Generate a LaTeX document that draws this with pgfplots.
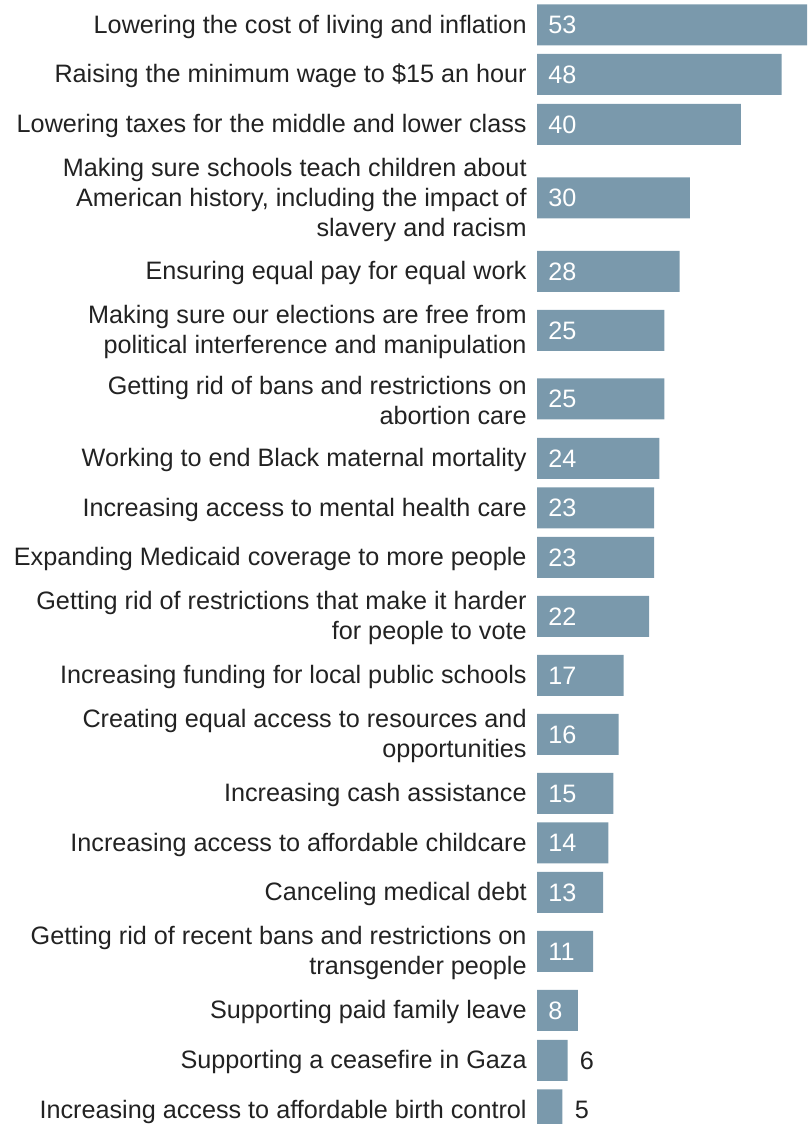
\documentclass[border=0pt]{standalone}
\usepackage{pgfplots}
\pgfplotsset{compat=1.18}
\usepackage{fontspec}
\setmainfont{Liberation Sans}
\definecolor{barc}{HTML}{7A99AC}
\definecolor{txt}{HTML}{222222}
\begin{document}
\begin{tikzpicture}
\useasboundingbox (0,0) rectangle (405pt,562pt);
\begin{axis}[
  at={(268.5pt,0pt)}, anchor=south west,
  scale only axis, width=136.5pt, height=562pt,
  xmin=0, xmax=53.59, ymin=-1124, ymax=0,
  clip=false,
  axis x line=none,
  axis y line*=left,
  y axis line style={draw=none},
  major tick length=0pt,
  xtick=\empty,
  ytick={-25,-74.5,-124.5,-198,-271.5,-330.5,-399,-458.5,-508,-557.5,-616.5,-675.5,-734.5,-793.5,-843,-892.5,-951.5,-1010.5,-1060.5,-1110},
  yticklabels={
    {Lowering the cost of living and inflation},
    {Raising the minimum wage to \$15 an hour},
    {Lowering taxes for the middle and lower class},
    {Making sure schools teach children about\\American history, including the impact of\\slavery and racism},
    {Ensuring equal pay for equal work},
    {Making sure our elections are free from\\political interference and manipulation},
    {Getting rid of bans and restrictions on\\abortion care},
    {Working to end Black maternal mortality},
    {Increasing access to mental health care},
    {Expanding Medicaid coverage to more people},
    {Getting rid of restrictions that make it harder\\for people to vote},
    {Increasing funding for local public schools},
    {Creating equal access to resources and\\opportunities},
    {Increasing cash assistance},
    {Increasing access to affordable childcare},
    {Canceling medical debt},
    {Getting rid of recent bans and restrictions on\\transgender people},
    {Supporting paid family leave},
    {Supporting a ceasefire in Gaza},
    {Increasing access to affordable birth control}},
  yticklabel style={align=right, anchor=east, inner sep=0pt, xshift=-5pt, yshift=-0.8pt,
    font=\fontsize{12.6}{15}\selectfont, text=txt},
]
\addplot[xbar, bar width=20.5pt, fill=barc, draw=none] coordinates {
(53,-25) (48,-74.5) (40,-124.5) (30,-198) (28,-271.5) (25,-330.5) (25,-399)
(24,-458.5) (23,-508) (23,-557.5) (22,-616.5) (17,-675.5) (16,-734.5)
(15,-793.5) (14,-843) (13,-892.5) (11,-951.5) (8,-1010.5) (6,-1060.5) (5,-1110)};
\addplot[draw=none, mark=none, nodes near coords, point meta=explicit symbolic,
  nodes near coords style={anchor=west, inner sep=0pt, xshift=5.5pt, text=white,
  font=\fontsize{12.6}{15}\selectfont}] coordinates {
(0,-25)[53] (0,-74.5)[48] (0,-124.5)[40] (0,-198)[30] (0,-271.5)[28] (0,-330.5)[25] (0,-399)[25]
(0,-458.5)[24] (0,-508)[23] (0,-557.5)[23] (0,-616.5)[22] (0,-675.5)[17] (0,-734.5)[16]
(0,-793.5)[15] (0,-843)[14] (0,-892.5)[13] (0,-951.5)[11] (0,-1010.5)[8]};
\addplot[draw=none, mark=none, nodes near coords, point meta=explicit symbolic,
  nodes near coords style={anchor=west, inner sep=0pt, xshift=6pt, text=txt,
  font=\fontsize{12.6}{15}\selectfont}] coordinates {
(6,-1060.5)[6] (5,-1110)[5]};
\end{axis}
\end{tikzpicture}
\end{document}
